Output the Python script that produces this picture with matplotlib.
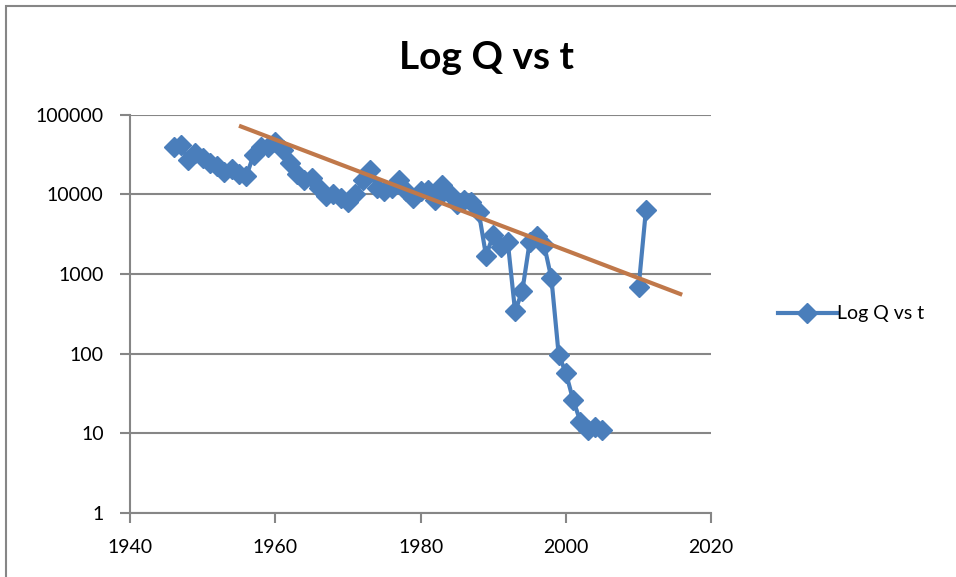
import numpy as np
import matplotlib.pyplot as plt
from matplotlib.patches import Rectangle
from matplotlib.ticker import FixedLocator, FuncFormatter, NullLocator

plt.rcParams['font.family'] = ['Lato', 'DejaVu Sans']

# no data between 2005 and 2010 -> NaN breaks the line
years = [1946, 1947, 1948, 1949, 1950, 1951, 1952, 1953, 1954, 1955,
         1956, 1957, 1958, 1959, 1960, 1961, 1962, 1963, 1964, 1965,
         1966, 1967, 1968, 1969, 1970, 1971, 1972, 1973, 1974, 1975,
         1976, 1977, 1978, 1979, 1980, 1981, 1982, 1983, 1984, 1985,
         1986, 1987, 1988, 1989, 1990, 1991, 1992, 1993, 1994, 1995,
         1996, 1997, 1998, 1999, 2000, 2001, 2002, 2003, 2004, 2005,
         2007, 2010, 2011]
q = [40000, 42000, 27000, 33000, 29000, 25000, 23000, 19000, 21000, 18000,
     17000, 31000, 40000, 40000, 45000, 36000, 25000, 18000, 15000, 16000,
     12000, 9500, 10000, 9000, 8000, 10000, 15000, 20000, 12000, 11000,
     12000, 15000, 11000, 9000, 11000, 11500, 8500, 13000, 10000, 7500,
     8500, 8000, 6000, 1700, 3100, 2200, 2500, 340, 620, 2500,
     3000, 2300, 880, 97, 57, 26, 14, 11, 12, 11,
     np.nan, 680, 6300]

trend_years = [1955, 2016]
trend_q = [73000, 550]

fig = plt.figure(figsize=(9.56, 5.77), dpi=100)
ax = fig.add_axes([0.136, 0.111, 0.608, 0.690])

grey = '#868686'
ax.set_yscale('log')
ax.set_xlim(1940, 2020)
ax.set_ylim(1, 100000)
ax.yaxis.set_major_locator(FixedLocator([1, 10, 100, 1000, 10000, 100000]))
ax.yaxis.set_minor_locator(NullLocator())
ax.yaxis.set_major_formatter(FuncFormatter(lambda v, p: f'{int(round(v))}'))
ax.xaxis.set_major_locator(FixedLocator([1940, 1960, 1980, 2000, 2020]))
ax.grid(axis='y', color=grey, linewidth=1.5)
ax.set_axisbelow(True)
for s in ['top', 'right']:
    ax.spines[s].set_visible(False)
for s in ['left', 'bottom']:
    ax.spines[s].set_color(grey)
    ax.spines[s].set_linewidth(1.5)
ax.tick_params(axis='both', direction='out', length=7, width=1.5, color=grey,
               labelsize=14)
ax.tick_params(axis='x', pad=12)
ax.tick_params(axis='y', pad=12)

ax.plot(years, q, color='#4A7EBB', linewidth=3, marker='D', markersize=10,
        label='Log Q vs t', clip_on=False)
ax.plot(trend_years, trend_q, color='#C0784A', linewidth=3, solid_capstyle='butt')

ax.legend(loc='center left', bbox_to_anchor=(1.085, 0.5), frameon=False,
          fontsize=14, handlelength=3, handletextpad=0.05)

fig.text(0.509, 0.90, 'Log Q vs t', ha='center', va='center', fontsize=28,
         fontweight='bold')

fig.patches.append(Rectangle((0.006, -0.01), 1.0, 1.0, transform=fig.transFigure,
                             fill=False, edgecolor=grey, linewidth=1.5))

fig.savefig('out.png', dpi=100)
